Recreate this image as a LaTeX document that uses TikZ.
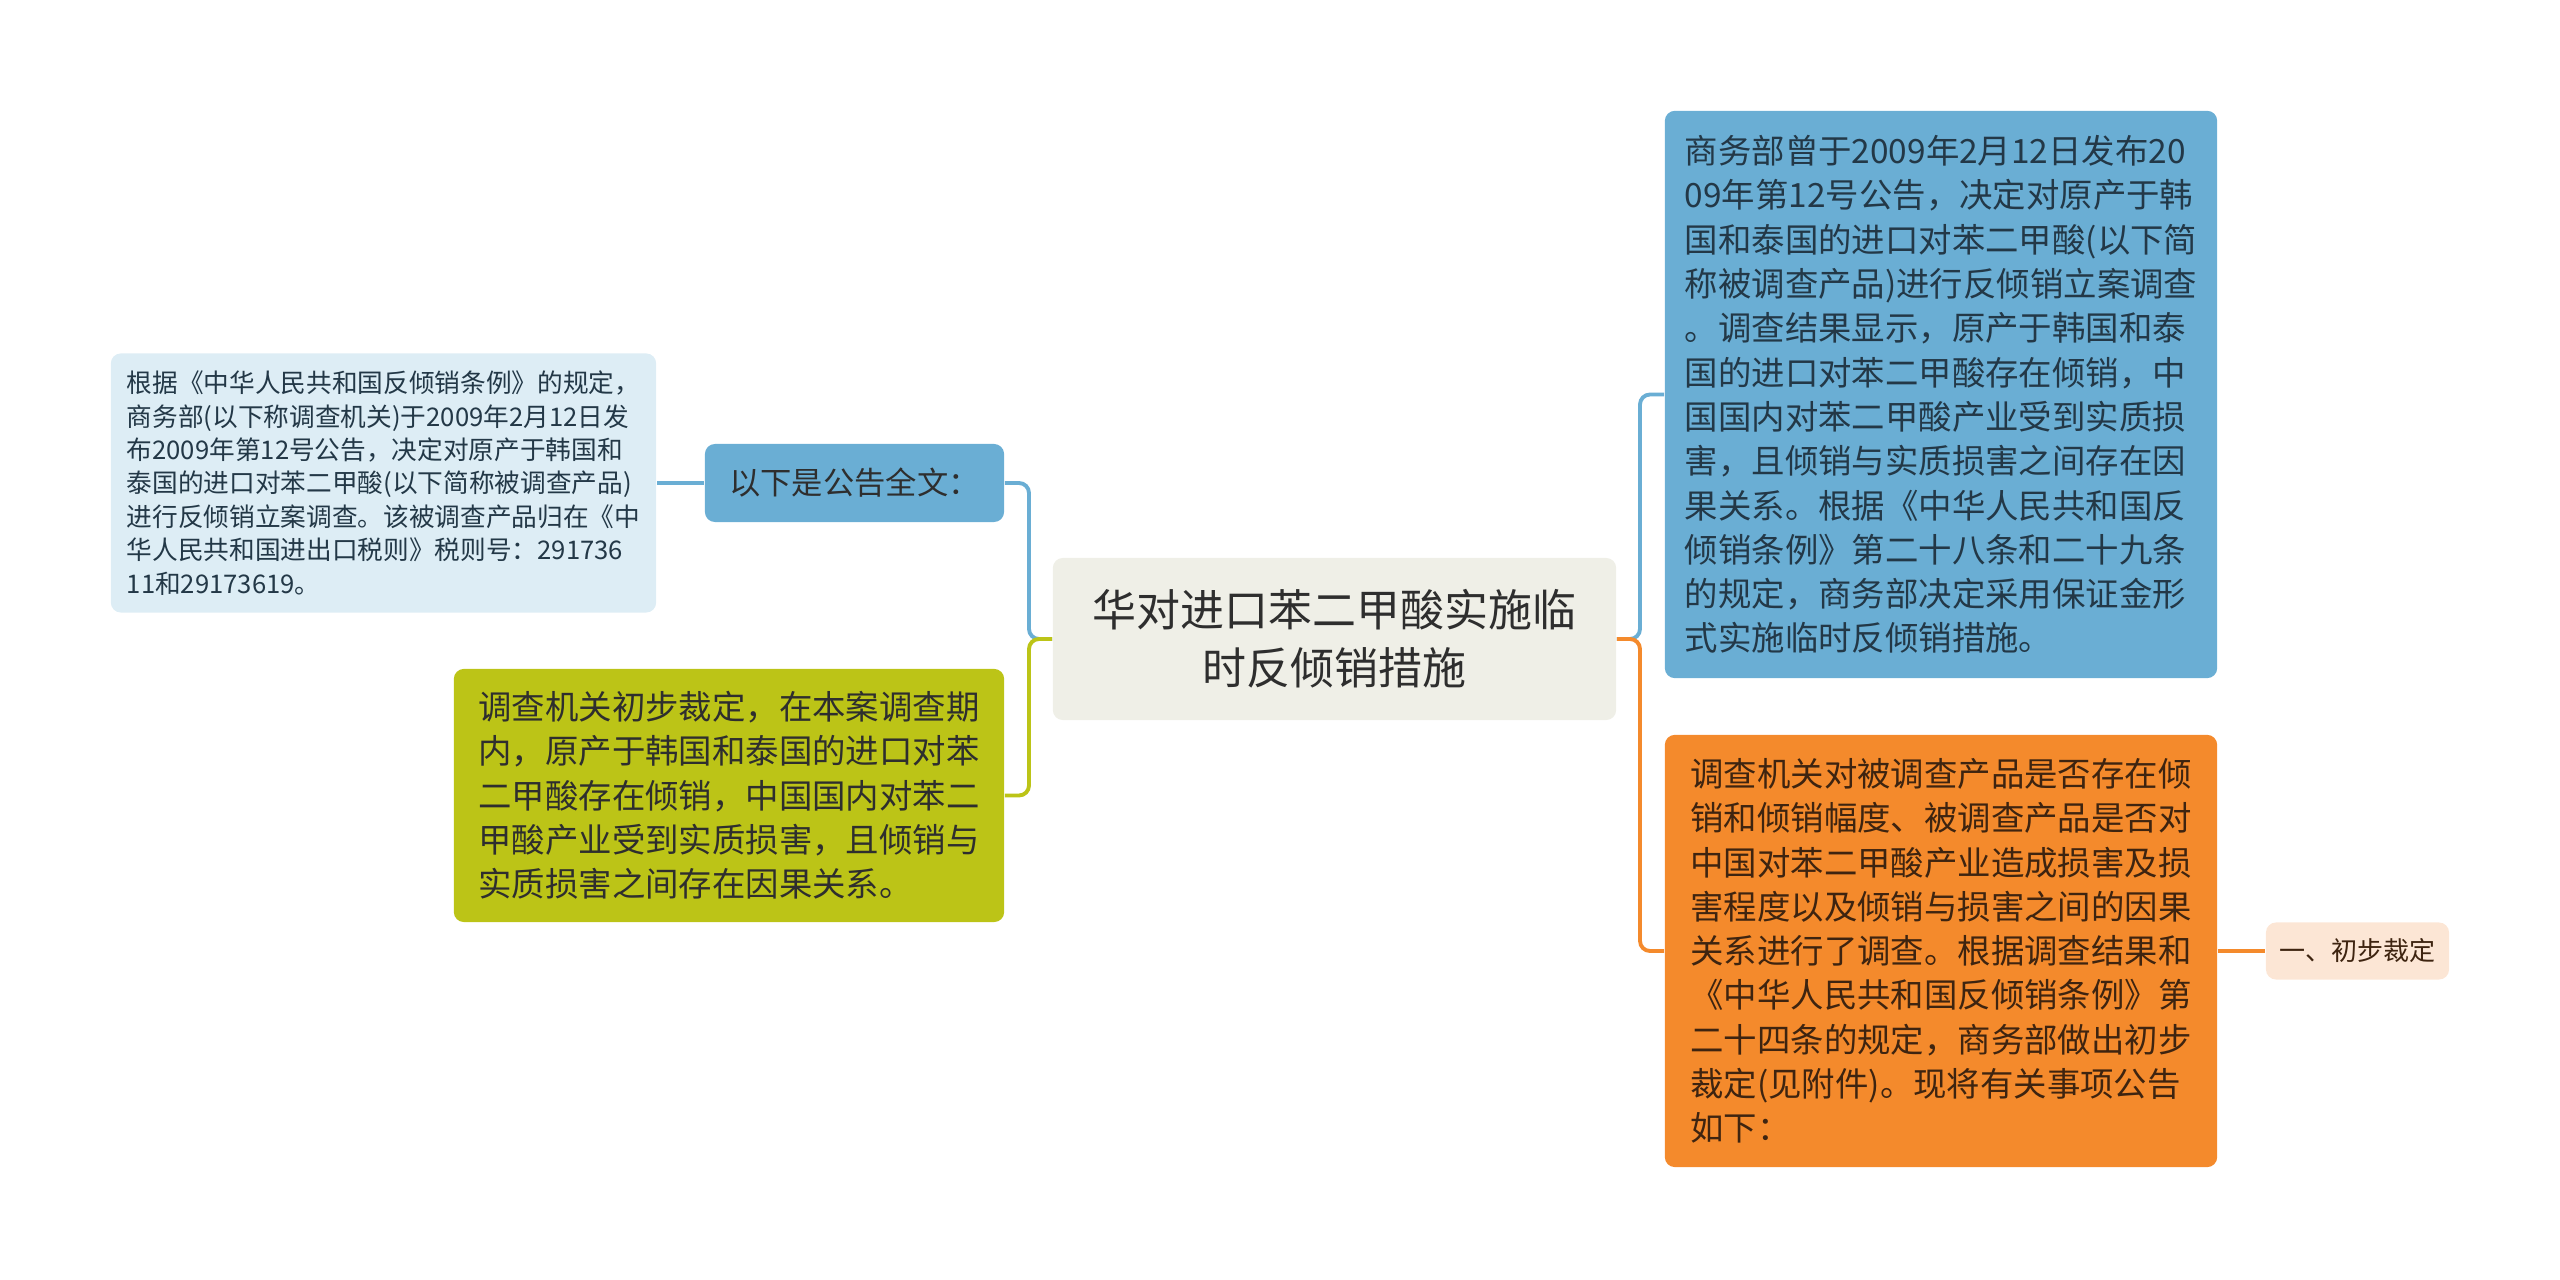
\documentclass[tikz,border=0pt]{standalone}
\usepackage{fontspec}
\setmainfont{Noto Sans CJK SC}
\usepackage{tikz}
\definecolor{rootbg}{HTML}{EFEFE7}
\definecolor{bluebg}{HTML}{6AAED4}
\definecolor{palebg}{HTML}{DDEDF5}
\definecolor{olivebg}{HTML}{BCC417}
\definecolor{orangebg}{HTML}{F48A2C}
\definecolor{peachbg}{HTML}{FCE6D5}
\definecolor{inkgrey}{HTML}{2E2E2E}
\definecolor{inknavy}{HTML}{233847}
\definecolor{inkbrown}{HTML}{3E2410}
\tikzset{
  topic/.style={rounded corners=0.1cm, inner sep=0pt, align=left, text=inkgrey},
  body/.style={topic, font=\fontsize{9.5}{12.6}\selectfont, minimum width=5.52cm},
  link/.style={line width=1.1pt, rounded corners=0.1cm},
}

\begin{document}
\begin{tikzpicture}[x=0.01cm, y=-0.01cm]
\useasboundingbox (0,0) rectangle (2560,1280);

% Define nodes

\node[topic, fill=rootbg, align=center, minimum width=5.63cm, minimum height=1.62cm,
      font=\fontsize{12.5}{16.4}\selectfont]  (root) at (1334.5,639)
      {华对进口苯二甲酸实施临\\时反倾销措施};

\node[topic, fill=bluebg, minimum width=2.99cm, minimum height=0.78cm,
      font=\fontsize{8.9}{11}\selectfont]  (notice) at (854.5,483) {以下是公告全文：};

\node[topic, fill=palebg, text=inknavy, minimum width=5.45cm, minimum height=2.59cm,
      font=\fontsize{7.3}{9.5}\selectfont]  (basis) at (383.5,483)
      {根据《中华人民共和国反倾销条例》的规定，\\
       商务部(以下称调查机关)于2009年2月12日发\\
       布2009年第12号公告，决定对原产于韩国和\\
       泰国的进口对苯二甲酸(以下简称被调查产品)\\
       进行反倾销立案调查。该被调查产品归在《中\\
       华人民共和国进出口税则》税则号：291736\\
       11和29173619。};

\node[body, fill=olivebg, minimum width=5.5cm, minimum height=2.53cm]  (prelim) at (729,795.5)
      {调查机关初步裁定，在本案调查期\\
       内，原产于韩国和泰国的进口对苯\\
       二甲酸存在倾销，中国国内对苯二\\
       甲酸产业受到实质损害，且倾销与\\
       实质损害之间存在因果关系。};

\node[body, fill=bluebg, text=inknavy, minimum height=5.67cm]  (finding) at (1941,394.5)
      {商务部曾于2009年2月12日发布20\\
       09年第12号公告，决定对原产于韩\\
       国和泰国的进口对苯二甲酸(以下简\\
       称被调查产品)进行反倾销立案调查\\
       。调查结果显示，原产于韩国和泰\\
       国的进口对苯二甲酸存在倾销，中\\
       国国内对苯二甲酸产业受到实质损\\
       害，且倾销与实质损害之间存在因\\
       果关系。根据《中华人民共和国反\\
       倾销条例》第二十八条和二十九条\\
       的规定，商务部决定采用保证金形\\
       式实施临时反倾销措施。};

\node[body, fill=orangebg, text=inkbrown, minimum height=4.32cm]  (inquiry) at (1941,951)
      {调查机关对被调查产品是否存在倾\\
       销和倾销幅度、被调查产品是否对\\
       中国对苯二甲酸产业造成损害及损\\
       害程度以及倾销与损害之间的因果\\
       关系进行了调查。根据调查结果和\\
       《中华人民共和国反倾销条例》第\\
       二十四条的规定，商务部做出初步\\
       裁定(见附件)。现将有关事项公告\\
       如下：};

\node[topic, fill=peachbg, text=inkbrown, minimum width=1.83cm, minimum height=0.57cm,
      font=\fontsize{7.4}{9}\selectfont]  (step1) at (2357.5,951) {一、初步裁定};

\coordinate (lfork) at (1029,639);
\coordinate (rfork) at (1640,639);

% Connect the nodes
\draw[link, draw=bluebg] (root.west) -- (lfork) |- (notice.east);
\draw[link, draw=olivebg] (root.west) -- (lfork) |- (prelim.east);
\draw[link, draw=bluebg] (notice.west) -- (basis.east);
\draw[link, draw=bluebg] (root.east) -- (rfork) |- (finding.west);
\draw[link, draw=orangebg] (root.east) -- (rfork) |- (inquiry.west);
\draw[link, draw=orangebg] (inquiry.east) -- (step1.west);

\end{tikzpicture}
\end{document}
